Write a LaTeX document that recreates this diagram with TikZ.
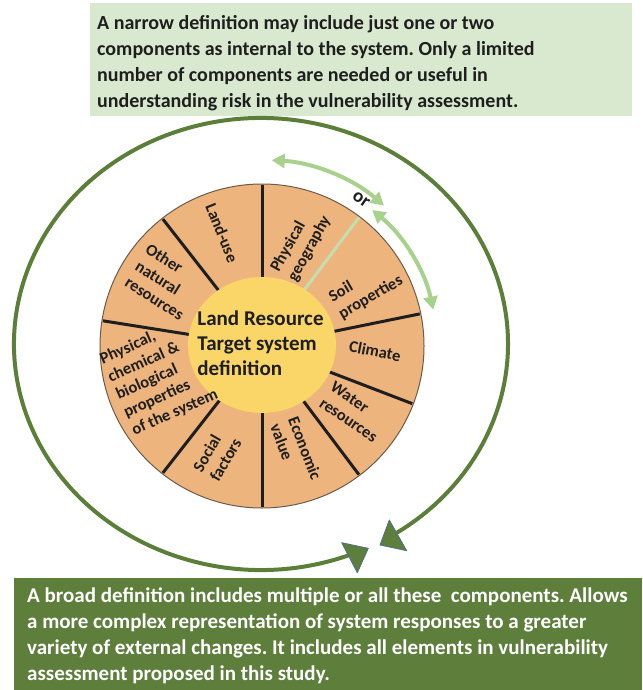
\documentclass[tikz,border=0pt]{standalone}
\usepackage{fontspec}
\setmainfont{Carlito}
\frenchspacing
\usetikzlibrary{arrows.meta,shapes.geometric}
\definecolor{wheelfill}{HTML}{EDB47E}
\definecolor{wheelline}{HTML}{6B5B4B}
\definecolor{coreyellow}{HTML}{F9D667}
\definecolor{topgreen}{HTML}{D9E9CF}
\definecolor{botgreen}{HTML}{5E7E3B}
\definecolor{ringgreen}{HTML}{5B7F38}
\definecolor{lightarrow}{HTML}{A8D18D}
\definecolor{lightdiv}{HTML}{C3DFB0}
\definecolor{inkdark}{HTML}{1E1E1E}
\definecolor{headline}{HTML}{4F6F8F}
\begin{document}
\begin{tikzpicture}[x=1pt,y=-1pt,
  boxtext/.style={align=left, inner sep=0pt, anchor=north west},
  seglabel/.style={font=\bfseries\fontsize{16.5}{19.5}\selectfont, text=inkdark, align=left, inner sep=0pt},
  divider/.style={line width=3pt, draw=inkdark},
  lgarrow/.style={draw=lightarrow, line width=4pt, {Triangle[length=13pt,width=14pt]}-{Triangle[length=13pt,width=14pt]}},
  ring/.style={draw=ringgreen, line width=4pt},
  ringhead/.style={fill=botgreen, draw=headline, line width=0.8pt, line join=round},
]
\useasboundingbox (0,0) rectangle (642,690);

% top box
\node[fill=topgreen, minimum width=542pt, minimum height=113pt, inner sep=0pt, anchor=north west] (narrowbox) at (90,3) {};
\node[boxtext, font=\bfseries\fontsize{20}{26}\selectfont, text=inkdark] (narrowtext) at (97,15.5) {A narrow definition may include just one or two\\components as internal to the system. Only a limited\\number of components are needed or useful in\\understanding risk in the vulnerability assessment.};

% bottom box
\node[fill=botgreen, minimum width=628pt, minimum height=112pt, inner sep=0pt, anchor=north west] (broadbox) at (14,578) {};
\node[boxtext, font=\bfseries\fontsize{21}{26}\selectfont, text=white] (broadtext) at (27,588) {A broad definition includes multiple or all these\ \ components. Allows\\a more complex representation of system responses to a greater\\variety of external changes. It includes all elements in vulnerability\\assessment proposed in this study.};

% outer ring
\coordinate (ringc) at (261,344);
\draw[ring] ([shift={(69:247 and 226)}]ringc) arc[start angle=69, end angle=417, x radius=247, y radius=226];
\filldraw[ringhead] (341.7,542.7) -- (368.3,548.3) -- (357.3,572.7) -- cycle;
\filldraw[ringhead] (389.3,520) -- (380,545) -- (406.7,550.7) -- cycle;

% wheel
\node[circle, fill=wheelfill, draw=wheelline, line width=1pt, minimum size=324pt, inner sep=0pt] (wheel) at (262,346) {};
\foreach \a in {270,348.5,21,53,90,128,189,232} \draw[divider] (wheel.center) -- ++(\a:161);
\draw[draw=lightdiv, line width=3pt] (wheel.center) -- ++(307:161);
\node[ellipse, fill=coreyellow, minimum width=148pt, minimum height=136pt, inner sep=0pt] (core) at (262,345) {};
\node[font=\bfseries\fontsize{21}{25}\selectfont, text=inkdark, align=left, inner sep=0pt] (corelabel) at (260.5,343) {Land Resource\\Target system\\definition};

% segment labels
\node[seglabel, rotate=-68] (landuse) at (222,233) {Land-use};
\node[seglabel, rotate=61] (physgeo) at (301,244) {Physical\\geography};
\node[seglabel, rotate=30] (soil) at (366,289) {Soil\\properties};
\node[seglabel, rotate=-11] (climate) at (375,351) {Climate};
\node[seglabel, rotate=-34] (water) at (354,412) {Water\\resources};
\node[seglabel, rotate=-69] (econ) at (296,452) {Economic\\value};
\node[seglabel, rotate=60] (social) at (217,455) {Social\\factors};
\node[seglabel, rotate=24] (physchem) at (159,377) {Physical,\\chemical \&\\biological\\properties\\of the system};
\node[seglabel, rotate=-32] (othernat) at (165,282) {Other\\natural\\resources};

% or-arrows
\draw[lgarrow] ([shift={(273:186)}]wheel.center) arc[start angle=273, end angle=311, radius=186];
\draw[lgarrow] ([shift={(309:175)}]wheel.center) arc[start angle=309, end angle=348, radius=175];
\node[font=\bfseries\fontsize{19}{21}\selectfont, text=inkdark, rotate=-35, inner sep=0pt] (orlabel) at (361,200) {or};
\end{tikzpicture}
\end{document}
